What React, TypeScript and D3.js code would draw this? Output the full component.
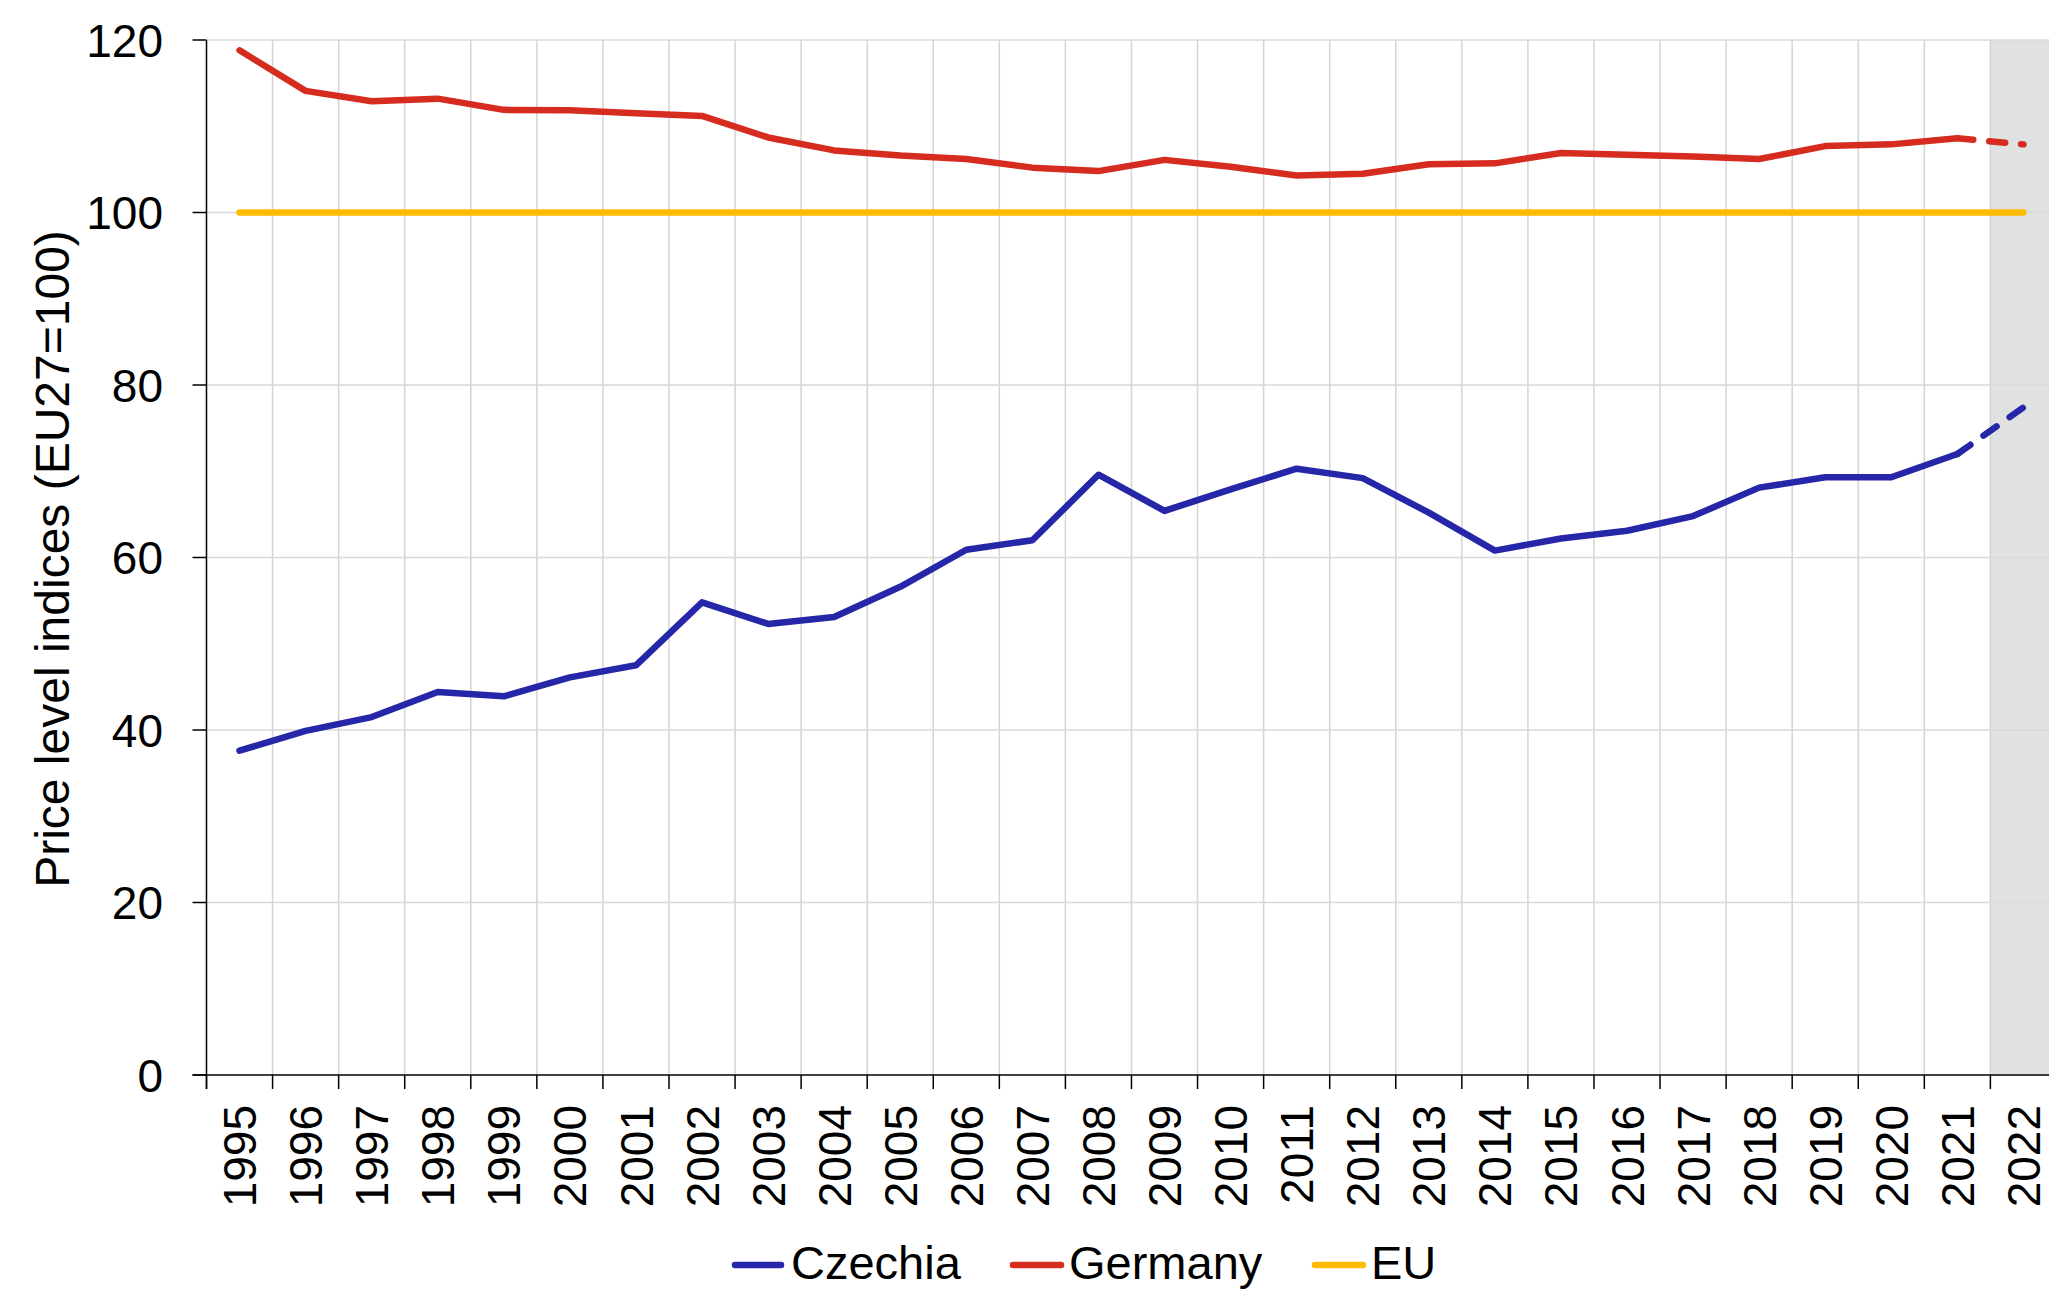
import React from "react";
import * as d3 from "d3";

const years = [
  "1995","1996","1997","1998","1999","2000","2001","2002","2003","2004",
  "2005","2006","2007","2008","2009","2010","2011","2012","2013","2014",
  "2015","2016","2017","2018","2019","2020","2021","2022",
];
const czechia = [
  37.6, 39.9, 41.5, 44.4, 43.9, 46.1, 47.5, 54.8, 52.3, 53.1,
  56.6, 60.9, 62.0, 69.6, 65.4, 67.9, 70.3, 69.2, 65.2, 60.8,
  62.2, 63.1, 64.8, 68.1, 69.3, 69.3, 72.0, 77.4,
];
const germany = [
  118.8, 114.1, 112.9, 113.2, 111.9, 111.85, 111.5, 111.2, 108.7, 107.2,
  106.6, 106.2, 105.2, 104.8, 106.1, 105.3, 104.3, 104.5, 105.6, 105.7,
  106.9, 106.7, 106.5, 106.2, 107.7, 107.9, 108.6, 107.9,
];
const eu = years.map(() => 100);
const yTicks = [0, 20, 40, 60, 80, 100, 120];
const estimatedYears = ["2022"];
const legendItems = [
  { name: "Czechia", color: "#2526a8" },
  { name: "Germany", color: "#d62b1f" },
  { name: "EU", color: "#ffbb00" },
];

const W = 2049;
const H = 1291;
const FONT = "'Liberation Sans', Arial, sans-serif";

export default function App() {
  const x0 = 206.5;
  const band = 66.07;
  const x = d3
    .scaleBand<string>()
    .domain(years)
    .range([x0, x0 + band * years.length])
    .paddingInner(0)
    .paddingOuter(0);
  const y = d3.scaleLinear().domain([0, 120]).range([1075, 40]);
  const cx = (yr: string) => (x(yr) as number) + x.bandwidth() / 2;

  const line = d3
    .line<[string, number]>()
    .x((d) => cx(d[0]))
    .y((d) => y(d[1]));

  const pairs = (vals: number[]) => years.map((yr, i) => [yr, vals[i]] as [string, number]);
  const n = years.length;
  const solid = (vals: number[]) => pairs(vals).slice(0, n - 1);
  const dashed = (vals: number[]) => pairs(vals).slice(n - 2);

  const yBottom = y(0);
  const yTop = y(120);
  const boundaries = years.map((yr) => x(yr) as number).concat([x0 + band * n]);
  const shadeX = x(estimatedYears[0]) as number;

  const legendPos = [
    { lx1: 732, lx2: 784, tx: 791 },
    { lx1: 1010, lx2: 1064, tx: 1069 },
    { lx1: 1312, lx2: 1366, tx: 1371 },
  ];
  const SW = 6.5;

  return (
    <svg
      width={W}
      height={H}
      style={{ position: "absolute", left: 0, top: 0, background: "#fff" }}
      fontFamily={FONT}
    >
      <rect x={0} y={0} width={W} height={H} fill="#fff" />
      <rect x={shadeX} y={yTop} width={W - shadeX} height={yBottom - yTop} fill="#e0e2e2" />
      {boundaries.slice(1).map((bx, i) => (
        <line key={"vg" + i} x1={bx} x2={bx} y1={yTop} y2={yBottom} stroke="#d4d4d4" strokeWidth={1.5} />
      ))}
      {yTicks.slice(1).map((t) => (
        <line key={"hg" + t} x1={x0} x2={W} y1={y(t)} y2={y(t)} stroke="#d9d9d9" strokeWidth={1.5} />
      ))}
      <line x1={x0} x2={x0} y1={yTop} y2={yBottom + 14} stroke="#000" strokeWidth={1.5} />
      {yTicks.map((t) => (
        <g key={"yt" + t}>
          <line x1={x0 - 14} x2={x0} y1={y(t)} y2={y(t)} stroke="#000" strokeWidth={1.5} />
          <text x={163} y={y(t)} dy="0.36em" textAnchor="end" fontSize={46} fill="#000">
            {t}
          </text>
        </g>
      ))}
      <line x1={x0 - 14} x2={W} y1={yBottom} y2={yBottom} stroke="#000" strokeWidth={1.5} />
      {boundaries.map((bx, i) => (
        <line key={"xt" + i} x1={bx} x2={bx} y1={yBottom} y2={yBottom + 14} stroke="#000" strokeWidth={1.5} />
      ))}
      {years.map((yr) => (
        <text
          key={"xl" + yr}
          transform={`translate(${cx(yr)},${1105}) rotate(-90)`}
          textAnchor="end"
          dy="0.36em"
          fontSize={46}
          fill="#000"
        >
          {yr}
        </text>
      ))}
      <text transform={`translate(69,559) rotate(-90)`} textAnchor="middle" fontSize={48} fill="#000">
        Price level indices (EU27=100)
      </text>
      <path d={line(pairs(eu)) as string} fill="none" stroke="#ffbb00" strokeWidth={SW} strokeLinecap="round" strokeLinejoin="round" />
      <path d={line(solid(germany)) as string} fill="none" stroke="#d62b1f" strokeWidth={SW} strokeLinecap="round" strokeLinejoin="round" />
      <path d={line(dashed(germany)) as string} fill="none" stroke="#d62b1f" strokeWidth={SW} strokeLinecap="round" strokeDasharray="16 16" />
      <path d={line(solid(czechia)) as string} fill="none" stroke="#2526a8" strokeWidth={SW} strokeLinecap="round" strokeLinejoin="round" />
      <path d={line(dashed(czechia)) as string} fill="none" stroke="#2526a8" strokeWidth={SW} strokeLinecap="round" strokeDasharray="16 16" />
      {legendItems.map((it, i) => (
        <g key={"lg" + it.name}>
          <line
            x1={legendPos[i].lx1 + 3}
            x2={legendPos[i].lx2 - 3}
            y1={1265}
            y2={1265}
            stroke={it.color}
            strokeWidth={SW}
            strokeLinecap="round"
          />
          <text x={legendPos[i].tx} y={1279} fontSize={47} fill="#000">
            {it.name}
          </text>
        </g>
      ))}
    </svg>
  );
}
